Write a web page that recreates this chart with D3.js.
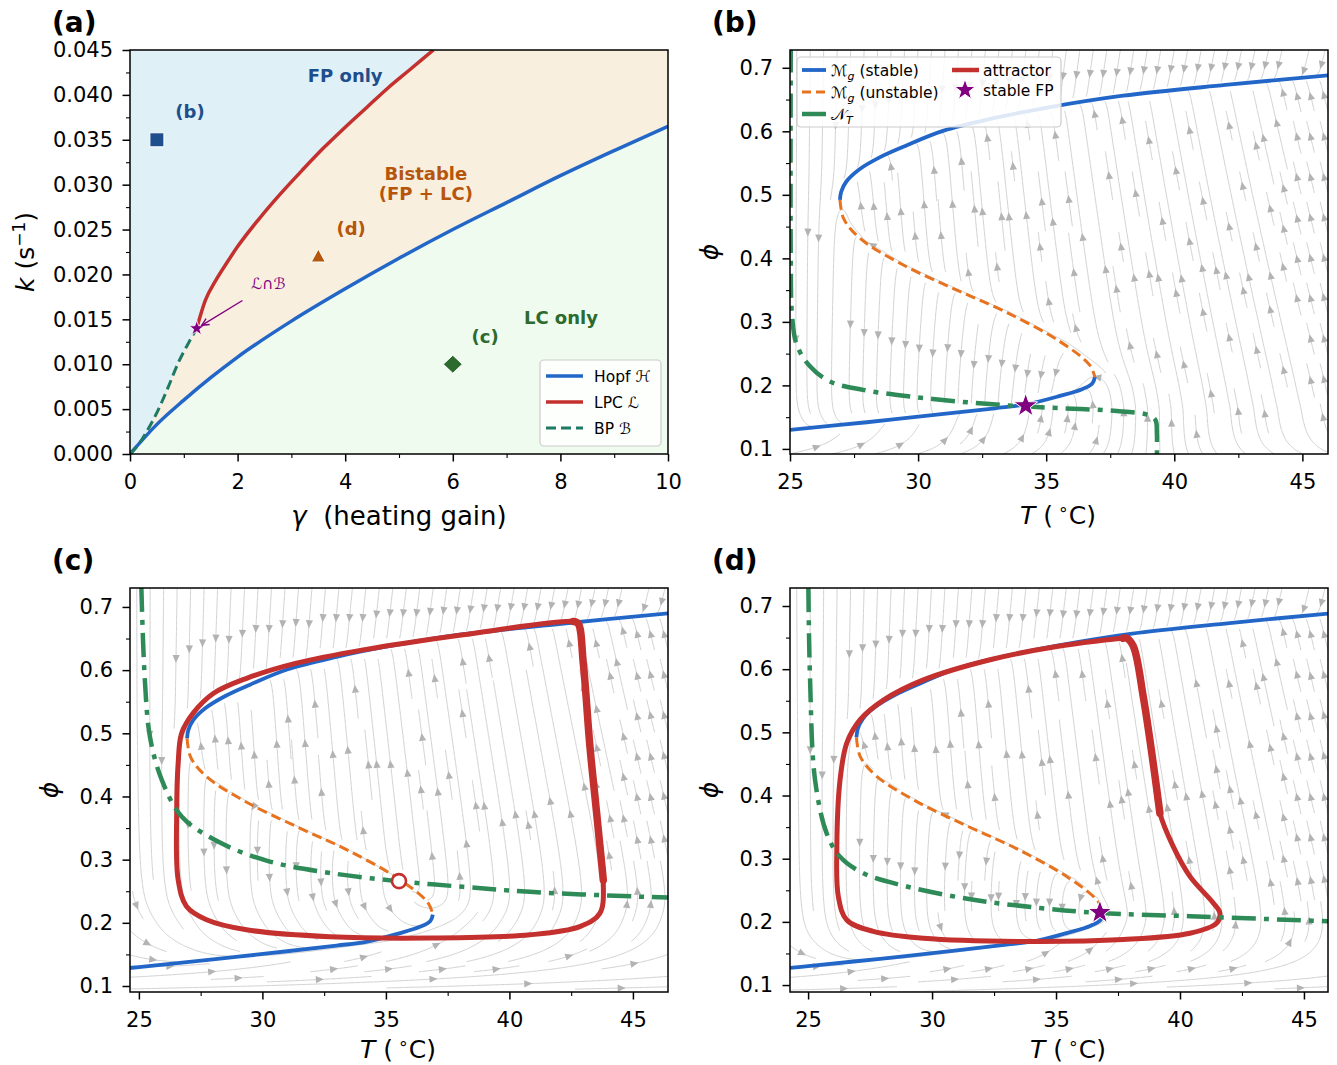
<!DOCTYPE html>
<html><head><meta charset="utf-8">
<script src="https://cdn.jsdelivr.net/npm/d3@7"></script>
<style>
body{margin:0;background:#fff;}
svg text{font-family:"DejaVu Sans",sans-serif;}
</style></head>
<body><svg id="fig" width="1337" height="1065" xmlns="http://www.w3.org/2000/svg"></svg>
<script>
// ================= DATA =================
// Panel (a): bifurcation curves (gamma, k)
const hopfGamma=[0,0.5,1,1.5,2,3,4,5,6,7,8,9,10];
const hopfK=[0,0.0033,0.0060,0.0085,0.0108,0.0148,0.0184,0.0218,0.0250,0.0280,0.0310,0.0338,0.0365];
const lpcGamma=[1.24,1.40,1.60,1.80,2.00,2.40,2.80,3.20,3.60,4.00,4.40,4.80,5.20,5.64];
const lpcK=[0.0140,0.0171,0.0194,0.0213,0.0231,0.0262,0.0290,0.0316,0.0341,0.0364,0.0386,0.0408,0.0428,0.0450];
const bpGamma=[0,0.15,0.3,0.5,0.7,0.9,1.1,1.24];
const bpK=[0,0.0010,0.0024,0.0046,0.0073,0.0102,0.0125,0.0140];
const markerNames=["(b)","(c)","(d)"];
const markerGamma=[0.5,6.0,3.5];
const markerK=[0.035,0.010,0.022];
const legendA=["Hopf ","LPC ","BP "];
const legendASym=["ℋ","ℒ","ℬ"];
const xTicksA=[0,2,4,6,8,10], xMinorA=[1,3,5,7,9];
const yTicksA=[0,0.005,0.010,0.015,0.020,0.025,0.030,0.035,0.040,0.045];
const yMinorA=[0.0025,0.0075,0.0125,0.0175,0.0225,0.0275,0.0325,0.0375,0.0425];

// Critical manifold M_g (T, phi), shared by panels (b)-(d)
const mgUpperT=[26.95,27.0,27.2,27.7,28.5,29.5,31.0,33.0,35.0,38.0,42.0,46.5];
const mgUpperPhi=[0.492,0.505,0.521,0.540,0.559,0.577,0.601,0.621,0.637,0.656,0.673,0.690];
const mgMidT=[26.95,27.1,27.75,29.4,31.4,33.4,35.5,36.7,36.9];
const mgMidPhi=[0.492,0.462,0.431,0.390,0.352,0.316,0.270,0.232,0.213];
const mgLowerT=[36.9,36.8,36.4,35.5,34.2,33.0,31.0,28.0,25.0,24.0];
const mgLowerPhi=[0.213,0.203,0.194,0.183,0.170,0.164,0.155,0.142,0.130,0.126];

// Temperature nullcline N_T for each phase panel
const ntBT=[25.03,25.03,25.08,25.26,25.78,26.56,27.85,29.80,31.76,33.71,35.66,37.62,38.93,39.26,39.32,39.32];
const ntBPhi=[0.730,0.400,0.310,0.264,0.230,0.206,0.193,0.182,0.174,0.168,0.164,0.160,0.154,0.146,0.125,0.088];
const ntCT=[25.10,25.24,25.45,25.93,26.74,28.28,30.30,32.73,35.45,38.12,40.83,45.57,46.5];
const ntCPhi=[0.730,0.585,0.494,0.426,0.368,0.327,0.297,0.279,0.266,0.257,0.249,0.241,0.240];
const ntDT=[25.01,25.08,25.28,25.75,26.29,27.23,28.98,31.67,34.35,36.77,40.40,45.24,46.0];
const ntDPhi=[0.728,0.583,0.425,0.340,0.303,0.277,0.256,0.235,0.222,0.214,0.209,0.202,0.201];

// Attractors (limit cycles) in (c) and (d)
const attrCT=[42.58,38.13,34.08,31.38,29.36,28.01,27.20,26.73,26.59,26.53,26.59,26.93,27.74,29.36,32.73,36.78,40.83,42.85,43.66,43.80,43.53,43.26,42.99,42.78];
const attrCPhi=[0.677,0.656,0.632,0.611,0.587,0.563,0.532,0.500,0.453,0.374,0.268,0.226,0.205,0.189,0.178,0.176,0.181,0.194,0.215,0.268,0.374,0.479,0.611,0.674];
const attrCThick=[19,20,21,22,23,0];
const attrDT=[37.71,35.03,32.34,29.65,28.04,27.10,26.56,26.29,26.16,26.22,26.56,27.63,29.65,33.68,37.71,40.40,41.48,41.61,41.34,40.40,39.73,39.19,38.92,38.52,38.12,37.85];
const attrDPhi=[0.649,0.636,0.615,0.583,0.551,0.520,0.483,0.425,0.319,0.240,0.203,0.185,0.174,0.169,0.172,0.182,0.198,0.214,0.230,0.272,0.319,0.372,0.451,0.556,0.636,0.649];
const attrDThick=[21,22,23,24,25,0];

// Fixed points
const fpB=[34.2,0.168];      // stable FP (b)
const fpC=[35.53,0.266];     // unstable FP (c)
const fpD=[36.77,0.215];     // stable FP (d)

const xTicksT=[25,30,35,40,45], xMinorT=[27.5,32.5,37.5,42.5];
const yTicksP=[0.1,0.2,0.3,0.4,0.5,0.6,0.7], yMinorP=[0.15,0.25,0.35,0.45,0.55,0.65];

// ================= STYLE =================
const C={hopf:"#2266c8",lpc:"#c3302e",bp:"#1e7a62",nt:"#2e8b57",orange:"#e8731e",purple:"#800080",
  fpBg:"#dff0f7",biBg:"#f9efdf",lcBg:"#eefbee",fpText:"#1f4e8c",biText:"#b5560c",lcText:"#2d6a2d",
  stream:"#cbcbcb",arrow:"#b3b3b3"};
const FIELD_A=0.3, FIELD_S=3.0, TICK_FS=21;

const svg=d3.select("#fig");
svg.append("rect").attr("width",1337).attr("height",1065).attr("fill","#fff");
const defs=svg.append("defs");

function addClip(id,xs,ys){const [x0,x1]=xs.range(),[y1,y0]=ys.range();
  defs.append("clipPath").attr("id",id).append("rect").attr("x",x0).attr("y",y0).attr("width",x1-x0).attr("height",y1-y0);}
function frame(g,xs,ys){const [x0,x1]=xs.range(),[y1,y0]=ys.range();
  g.append("rect").attr("x",x0).attr("y",y0).attr("width",x1-x0).attr("height",y1-y0).attr("fill","none").attr("stroke","#000").attr("stroke-width",1.5);}
function starPath(cx,cy,R){const r=R*0.40;let d="";for(let i=0;i<10;i++){const a=-Math.PI/2+i*Math.PI/5;const rr=i%2?r:R;
  d+=(i?"L":"M")+(cx+rr*Math.cos(a)).toFixed(2)+","+(cy+rr*Math.sin(a)).toFixed(2);}return d+"Z";}

function axes(g,xs,ys,o){
  const Y1=ys.range()[0], X0=xs.range()[0];
  const bx=g.append("g").attr("transform",`translate(0,${Y1})`);
  bx.append("g").attr("class","minor").call(d3.axisBottom(xs).tickValues(o.xMin).tickSize(4).tickSizeOuter(0).tickFormat(""));
  bx.append("g").attr("class","major").call(d3.axisBottom(xs).tickValues(o.xMaj).tickSize(7.5).tickSizeOuter(0).tickPadding(13).tickFormat(o.xFmt));
  const ly=g.append("g").attr("transform",`translate(${X0},0)`);
  ly.append("g").attr("class","minor").call(d3.axisLeft(ys).tickValues(o.yMin).tickSize(4).tickSizeOuter(0).tickFormat(""));
  ly.append("g").attr("class","major").call(d3.axisLeft(ys).tickValues(o.yMaj).tickSize(7.5).tickSizeOuter(0).tickPadding(9.5).tickFormat(o.yFmt));
  g.selectAll(".domain").remove();
  g.selectAll(".major .tick line").attr("stroke","#000").attr("stroke-width",1.5);
  g.selectAll(".minor .tick line").attr("stroke","#000").attr("stroke-width",1.1);
  g.selectAll(".tick text").attr("font-size",TICK_FS).attr("font-family","DejaVu Sans").attr("fill","#000");
}
function panelLabel(x,y,t){svg.append("text").attr("x",x).attr("y",y).attr("font-size",28).attr("font-weight","bold").text(t);}
function tLabel(cx,cy){const t=svg.append("text").attr("x",cx).attr("y",cy).attr("text-anchor","middle").attr("font-size",25);
  t.append("tspan").attr("font-style","italic").text("T");t.append("tspan").text(" (\u2009");
  t.append("tspan").attr("dy",-9).attr("font-size",17).text("∘");t.append("tspan").attr("dy",9).text("C)");}
function phiLabel(cx,cy){svg.append("text").attr("transform",`translate(${cx},${cy}) rotate(-90)`).attr("text-anchor","middle")
  .attr("font-size",25).attr("font-style","italic").text("ϕ");}

// ================= PANEL (a) =================
const xa=d3.scaleLinear([0,10],[130,668]), ya=d3.scaleLinear([0,0.045],[454,50]);
addClip("clipA",xa,ya);
const gA=svg.append("g");
const gAc=gA.append("g").attr("clip-path","url(#clipA)");
gAc.append("rect").attr("x",130).attr("y",50).attr("width",538).attr("height",404).attr("fill",C.biBg);
const bndG=bpGamma.concat(lpcGamma.slice(1)), bndK=bpK.concat(lpcK.slice(1));
gAc.append("path").attr("fill",C.fpBg).attr("d",d3.area().x(i=>xa(bndG[i])).y0(ya(0.045)).y1(i=>ya(bndK[i])).curve(d3.curveMonotoneX)(d3.range(bndG.length)));
gAc.append("path").attr("fill",C.lcBg).attr("d",d3.area().x(i=>xa(hopfGamma[i])).y0(ya(0)).y1(i=>ya(hopfK[i])).curve(d3.curveMonotoneX)(d3.range(hopfGamma.length)));
const lineA=(gs,ks)=>d3.line().x(i=>xa(gs[i])).y(i=>ya(ks[i])).curve(d3.curveMonotoneX)(d3.range(gs.length));
gAc.append("path").attr("d",lineA(hopfGamma,hopfK)).attr("fill","none").attr("stroke",C.hopf).attr("stroke-width",3.5);
gAc.append("path").attr("d",lineA(lpcGamma,lpcK)).attr("fill","none").attr("stroke",C.lpc).attr("stroke-width",3.5);
gAc.append("path").attr("d",lineA(bpGamma,bpK)).attr("fill","none").attr("stroke",C.bp).attr("stroke-width",3).attr("stroke-dasharray","10,5");
// region labels
const regT=(x,y,t,c)=>gA.append("text").attr("x",xa(x)).attr("y",ya(y)).attr("text-anchor","middle").attr("font-size",18).attr("font-weight","bold").attr("fill",c).text(t);
regT(4.0,0.0414,"FP only",C.fpText);
regT(5.5,0.0305,"Bistable",C.biText);
regT(5.5,0.0283,"(FP + LC)",C.biText);
regT(8.01,0.01448,"LC only",C.lcText);
// markers
const mxs=markerGamma.map(v=>xa(v)), mys=markerK.map(v=>ya(v));
gA.append("rect").attr("x",mxs[0]-7).attr("y",mys[0]-7).attr("width",14).attr("height",14).attr("fill",C.fpText).attr("stroke","#fff").attr("stroke-width",1);
gA.append("path").attr("d",`M${mxs[1]},${mys[1]-9}L${mxs[1]+9.5},${mys[1]}L${mxs[1]},${mys[1]+9}L${mxs[1]-9.5},${mys[1]}Z`).attr("fill",C.lcText).attr("stroke","#fff").attr("stroke-width",1);
gA.append("path").attr("d",`M${mxs[2]},${mys[2]-7.5}L${mxs[2]+7},${mys[2]+5.5}L${mxs[2]-7},${mys[2]+5.5}Z`).attr("fill",C.biText).attr("stroke","#fff").attr("stroke-width",1);
regT(1.115,0.0374,markerNames[0],C.fpText);
regT(6.6,0.01236,markerNames[1],C.lcText);
regT(4.11,0.0244,markerNames[2],C.biText);
// L∩B star + arrow
const sx=xa(lpcGamma[0]), sy=ya(lpcK[0]);
gA.append("path").attr("d",starPath(sx,sy,8)).attr("fill",C.purple).attr("stroke","#fff").attr("stroke-width",0.8);
{const x1=xa(2.09),y1=ya(0.0171),x2=sx+5,y2=sy-3;const a=Math.atan2(y2-y1,x2-x1);
 gA.append("line").attr("x1",x1).attr("y1",y1).attr("x2",x2).attr("y2",y2).attr("stroke",C.purple).attr("stroke-width",1.4);
 const L=8;gA.append("path").attr("d",`M${x2-L*Math.cos(a-0.45)},${y2-L*Math.sin(a-0.45)}L${x2},${y2}L${x2-L*Math.cos(a+0.45)},${y2-L*Math.sin(a+0.45)}`)
   .attr("fill","none").attr("stroke",C.purple).attr("stroke-width",1.4);}
gA.append("text").attr("x",xa(2.57)).attr("y",ya(0.0184)).attr("text-anchor","middle").attr("font-size",15.5).attr("fill",C.purple).attr("font-style","italic").text("ℒ∩ℬ");
// legend (a)
{const lg=gA.append("g");
 lg.append("rect").attr("x",540).attr("y",360).attr("width",121).attr("height",86).attr("rx",4).attr("fill","#fff").attr("fill-opacity",0.85).attr("stroke","#cccccc").attr("stroke-width",1.2);
 const cols=[C.hopf,C.lpc,C.bp], ly=[376,402,428];
 legendA.forEach((t,i)=>{
   lg.append("line").attr("x1",546).attr("x2",583).attr("y1",ly[i]).attr("y2",ly[i]).attr("stroke",cols[i]).attr("stroke-width",i==2?3:3.5).attr("stroke-dasharray",i==2?"10,5":null);
   const tx=lg.append("text").attr("x",594).attr("y",ly[i]+5.5).attr("font-size",15.5);
   tx.append("tspan").text(t);tx.append("tspan").attr("font-style","italic").text(legendASym[i]);
 });}
frame(gA,xa,ya);
axes(gA,xa,ya,{xMaj:xTicksA,xMin:xMinorA,yMaj:yTicksA,yMin:yMinorA,xFmt:d3.format("d"),yFmt:d3.format(".3f")});
{const t=svg.append("text").attr("transform","translate(34,252) rotate(-90)").attr("text-anchor","middle").attr("font-size",25);
 t.append("tspan").attr("font-style","italic").text("k");t.append("tspan").text(" (s");
 t.append("tspan").attr("dy",-9).attr("font-size",17).text("−1");t.append("tspan").attr("dy",9).text(")");}
{const t=svg.append("text").attr("x",399).attr("y",525).attr("text-anchor","middle").attr("font-size",26);
 t.append("tspan").attr("font-style","italic").text("γ");t.append("tspan").text("\u00a0\u00a0(heating gain)");}
panelLabel(52,32,"(a)");

// ================= FIELD / STREAMLINES =================
function interp(xs,ys,x){const n=xs.length;
  if(x<=xs[0]){const s=(ys[1]-ys[0])/(xs[1]-xs[0]);return ys[0]+s*(x-xs[0]);}
  if(x>=xs[n-1]){const s=(ys[n-1]-ys[n-2])/(xs[n-1]-xs[n-2]);return ys[n-1]+s*(x-xs[n-1]);}
  const i=d3.bisectRight(xs,x)-1;const t=(x-xs[i])/(xs[i+1]-xs[i]);return ys[i]+t*(ys[i+1]-ys[i]);}
// g(phi): M_g as T function of phi
const gPhi=[...mgLowerPhi].reverse().concat([...mgMidPhi].reverse().slice(1,-1),mgUpperPhi);
const gT=[...mgLowerT].reverse().concat([...mgMidT].reverse().slice(1,-1),mgUpperT);
function makeField(ntT,ntPhi){
  const idx=d3.range(ntPhi.length).sort((a,b)=>ntPhi[a]-ntPhi[b]);
  const P=idx.map(i=>ntPhi[i]),Tn=idx.map(i=>ntT[i]);
  return (T,p)=>{
    const u=FIELD_A*(interp(P,Tn,p)-T);
    const m=Math.pow(Math.min(1,Math.max(0,(p-0.085)/0.11)),2);
    const v=Math.tanh((T-interp(gPhi,gT,p))/FIELD_S)*(0.03+0.97*m);
    return [u,v];};
}
function spiral(N){const out=[];let x0=0,y0=0,x1=N-1,y1=N-1;
  while(x0<=x1&&y0<=y1){for(let i=x0;i<=x1;i++)out.push([i,y0]);for(let j=y0+1;j<=y1;j++)out.push([x1,j]);
    if(y0<y1)for(let i=x1-1;i>=x0;i--)out.push([i,y1]);if(x0<x1)for(let j=y1-1;j>y0;j--)out.push([x0,j]);x0++;y0++;x1--;y1--;}
  return out;}
function streamplot(g,xs,ys,field,N){
  const [X0,X1]=xs.range(),[Y1,Y0]=ys.range();const Wd=X1-X0,Hd=Y1-Y0;
  const mask=new Uint8Array(N*N);
  const cell=(x,y)=>Math.min(N-1,Math.floor((x-X0)/Wd*N))+N*Math.min(N-1,Math.floor((y-Y0)/Hd*N));
  const kx=Wd/(xs.domain()[1]-xs.domain()[0]),ky=Hd/(ys.domain()[1]-ys.domain()[0]);
  const dirAt=(x,y)=>{const [u,v]=field(xs.invert(x),ys.invert(y));const dx=u*kx,dy=-v*ky;const s=Math.hypot(dx,dy);if(!(s>1e-9))return null;return [dx/s,dy/s];};
  const h=1.2,maxLen=4*Math.max(Wd,Hd),inside=(x,y)=>x>=X0&&x<=X1&&y>=Y0&&y<=Y1;
  function run(x,y,sg,visited){const pts=[];let c=cell(x,y),len=0,prev=null;
    for(let k=0;k<5000;k++){const a=dirAt(x,y);if(!a)break;
      const mx=x+sg*a[0]*h/2,my=y+sg*a[1]*h/2;if(!inside(mx,my))break;
      const b=dirAt(mx,my);if(!b)break;
      if(prev&&b[0]*prev[0]+b[1]*prev[1]<0.3)break;
      const nx=x+sg*b[0]*h,ny=y+sg*b[1]*h;if(!inside(nx,ny))break;
      const nc=cell(nx,ny);if(nc!==c){if(mask[nc])break;mask[nc]=1;visited.push(nc);c=nc;}
      prev=b;x=nx;y=ny;pts.push([x,y]);len+=h;if(len>maxLen)break;}
    return {pts,len};}
  const lines=[];
  for(const [i,j] of spiral(N)){const c0=j*N+i;if(mask[c0])continue;
    const sx=X0+(i+0.5)*Wd/N,sy=Y0+(j+0.5)*Hd/N;mask[c0]=1;const vis=[c0];
    const bw=run(sx,sy,-1,vis),fw=run(sx,sy,1,vis);
    if(bw.len+fw.len<28){for(const c of vis)mask[c]=0;continue;}
    lines.push(bw.pts.reverse().concat([[sx,sy]],fw.pts));}
  const lg=d3.line();
  g.append("g").selectAll("path").data(lines).join("path").attr("d",lg).attr("fill","none").attr("stroke",C.stream).attr("stroke-width",0.9);
  const ag=g.append("g");
  for(const pts of lines){let tot=0;const cum=[0];for(let k=1;k<pts.length;k++){tot+=Math.hypot(pts[k][0]-pts[k-1][0],pts[k][1]-pts[k-1][1]);cum.push(tot);}
    let n=d3.bisectLeft(cum,tot/2);n=Math.min(Math.max(n,0),pts.length-2);
    const p=pts[n],q=pts[n+1];const a=Math.atan2(q[1]-p[1],q[0]-p[0]);const L=8,Wh=3.6;
    const tx=p[0]+Math.cos(a)*L/2,ty=p[1]+Math.sin(a)*L/2,bx=p[0]-Math.cos(a)*L/2,by=p[1]-Math.sin(a)*L/2;
    ag.append("path").attr("d",`M${tx},${ty}L${bx-Math.sin(a)*Wh},${by+Math.cos(a)*Wh}L${bx+Math.sin(a)*Wh},${by-Math.cos(a)*Wh}Z`).attr("fill",C.arrow);}
}

// ================= PHASE PANELS =================
function phasePanel(o){
  const {xs,ys,id}=o;addClip(id,xs,ys);
  const g=svg.append("g");const gc=g.append("g").attr("clip-path",`url(#${id})`);
  streamplot(gc,xs,ys,makeField(o.ntT,o.ntPhi),40);
  const ln=(Ts,Ps,curve)=>d3.line().x(i=>xs(Ts[i])).y(i=>ys(Ps[i])).curve(curve||d3.curveCatmullRom)(d3.range(Ts.length));
  gc.append("path").attr("d",ln(mgUpperT,mgUpperPhi)).attr("fill","none").attr("stroke",C.hopf).attr("stroke-width",3.8);
  gc.append("path").attr("d",ln(mgLowerT,mgLowerPhi)).attr("fill","none").attr("stroke",C.hopf).attr("stroke-width",3.8);
  gc.append("path").attr("d",ln(mgMidT,mgMidPhi)).attr("fill","none").attr("stroke",C.orange).attr("stroke-width",3).attr("stroke-dasharray","10,5");
  if(o.aT){
    gc.append("path").attr("d",ln(o.aT,o.aP,d3.curveCatmullRomClosed)).attr("fill","none").attr("stroke",C.lpc).attr("stroke-width",5).attr("stroke-linejoin","round");
    const th=d3.line().x(i=>xs(o.aT[i])).y(i=>ys(o.aP[i])).curve(d3.curveCatmullRom)(o.thick);
    gc.append("path").attr("d",th).attr("fill","none").attr("stroke",C.lpc).attr("stroke-width",7.5).attr("stroke-linecap","round");
  }
  gc.append("path").attr("d",ln(o.ntT,o.ntPhi)).attr("fill","none").attr("stroke",C.nt).attr("stroke-width",4.5).attr("stroke-dasharray","24,8,5,8");
  if(o.fp){const [T,p]=o.fp.pt;
    if(o.fp.stable) g.append("path").attr("d",starPath(xs(T),ys(p),12.5)).attr("fill",C.purple).attr("stroke","#fff").attr("stroke-width",1);
    else g.append("circle").attr("cx",xs(T)).attr("cy",ys(p)).attr("r",7).attr("fill","#fff").attr("stroke",C.lpc).attr("stroke-width",2.6);}
  frame(g,xs,ys);
  axes(g,xs,ys,{xMaj:xTicksT,xMin:xMinorT,yMaj:yTicksP,yMin:yMinorP,xFmt:d3.format("d"),yFmt:d3.format(".1f")});
  return g;
}
// (b)
const xb=d3.scaleLinear([25,46],[790,1328]), yb=d3.scaleLinear([0.092,0.728],[454,50]);
const gB=phasePanel({xs:xb,ys:yb,id:"clipB",ntT:ntBT,ntPhi:ntBPhi,fp:{pt:fpB,stable:true}});
// legend (b)
{const lg=gB.append("g");
 lg.append("rect").attr("x",797).attr("y",57).attr("width",264).attr("height",70).attr("rx",4).attr("fill","#fff").attr("fill-opacity",0.85).attr("stroke","#cccccc").attr("stroke-width",1.2);
 const row=[70,92,114];
 lg.append("line").attr("x1",802).attr("x2",826).attr("y1",row[0]).attr("y2",row[0]).attr("stroke",C.hopf).attr("stroke-width",3.8);
 lg.append("line").attr("x1",802).attr("x2",826).attr("y1",row[1]).attr("y2",row[1]).attr("stroke",C.orange).attr("stroke-width",3).attr("stroke-dasharray","9,5");
 lg.append("line").attr("x1",802).attr("x2",826).attr("y1",row[2]).attr("y2",row[2]).attr("stroke",C.nt).attr("stroke-width",4.5);
 const mg=(y,rest)=>{const t=lg.append("text").attr("x",831).attr("y",y+5.5).attr("font-size",15.5);
   t.append("tspan").text("ℳ");t.append("tspan").attr("dy",4).attr("font-size",11).attr("font-style","italic").text("g");t.append("tspan").attr("dy",-4).text(rest);};
 mg(row[0]," (stable)");mg(row[1]," (unstable)");
 {const t=lg.append("text").attr("x",831).attr("y",row[2]+5.5).attr("font-size",15.5);
  t.append("tspan").text("𝒩");t.append("tspan").attr("dy",4).attr("font-size",11).attr("font-style","italic").text("T");}
 lg.append("line").attr("x1",952).attr("x2",979).attr("y1",row[0]).attr("y2",row[0]).attr("stroke",C.lpc).attr("stroke-width",4.5);
 lg.append("text").attr("x",983).attr("y",row[0]+5.5).attr("font-size",15.5).text("attractor");
 lg.append("path").attr("d",starPath(965,90,11)).attr("fill",C.purple).attr("stroke","#fff").attr("stroke-width",1);
 lg.append("text").attr("x",983).attr("y",row[1]+3.5).attr("font-size",15.5).text("stable FP");}
// (c)
const xc=d3.scaleLinear([24.64,46.42],[130,668]), yc=d3.scaleLinear([0.0905,0.730],[992,588]);
phasePanel({xs:xc,ys:yc,id:"clipC",ntT:ntCT,ntPhi:ntCPhi,aT:attrCT,aP:attrCPhi,thick:attrCThick,fp:{pt:fpC,stable:false}});
// (d)
const xd=d3.scaleLinear([24.27,45.97],[790,1328]), yd=d3.scaleLinear([0.089,0.7285],[992,588]);
phasePanel({xs:xd,ys:yd,id:"clipD",ntT:ntDT,ntPhi:ntDPhi,aT:attrDT,aP:attrDPhi,thick:attrDThick,fp:{pt:fpD,stable:true}});

// axis labels
phiLabel(718,252);tLabel(1058,524);
phiLabel(58,790);tLabel(398,1058);
phiLabel(718,790);tLabel(1068,1058);
panelLabel(712,32,"(b)");panelLabel(52,570,"(c)");panelLabel(712,570,"(d)");
</script></body></html>
